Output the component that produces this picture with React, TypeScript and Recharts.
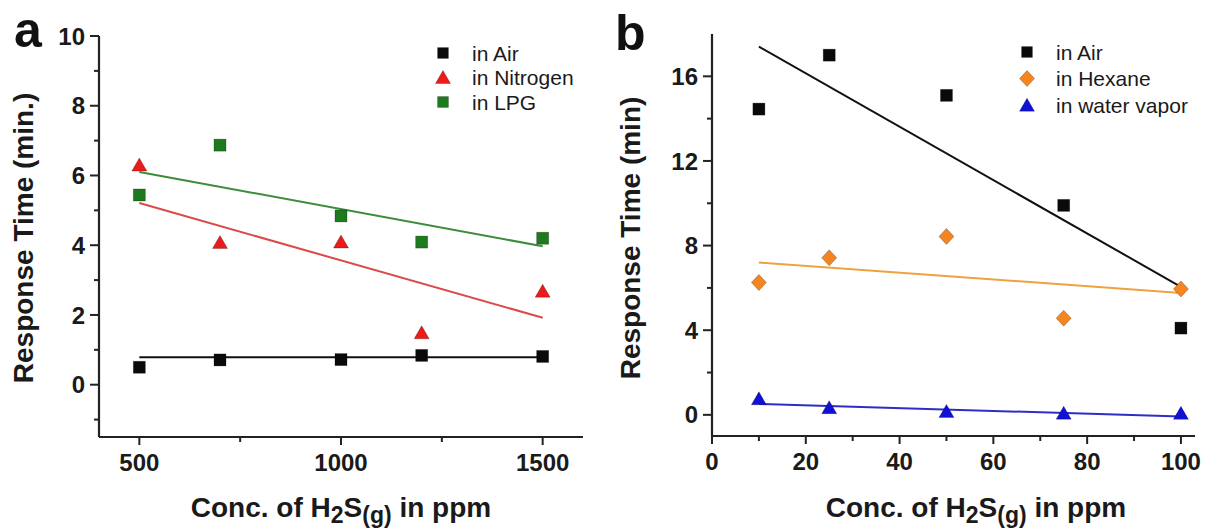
import { ComposedChart, Scatter, Line, XAxis, YAxis, Legend, Label } from 'recharts'

// panel a: concentration (ppm) vs response time (min.)
const concA = [500, 700, 1000, 1200, 1500]
const airA = [0.5, 0.71, 0.72, 0.84, 0.81]
const nitrogenA = [6.3, 4.08, 4.09, 1.49, 2.68]
const lpgA = [5.44, 6.87, 4.84, 4.09, 4.2]
const fitXA = [500, 1500]
const airFitA = [0.79, 0.79]
const nitrogenFitA = [5.21, 1.92]
const lpgFitA = [6.1, 3.97]

// panel b
const concB = [10, 25, 50, 75, 100]
const airB = [14.45, 17.0, 15.1, 9.9, 4.1]
const hexaneB = [6.25, 7.42, 8.43, 4.57, 5.95]
const waterB = [0.76, 0.34, 0.16, 0.08, 0.07]
const fitXB = [10, 100]
const airFitB = [17.4, 6.05]
const hexaneFitB = [7.2, 5.76]
const waterFitB = [0.52, -0.08]

const ticksXA = [500, 750, 1000, 1250, 1500]
const labelsXA = [500, 1000, 1500]
const ticksYA = [-1, 0, 1, 2, 3, 4, 5, 6, 7, 8, 9, 10]
const labelsYA = [0, 2, 4, 6, 8, 10]
const ticksXB = [0, 10, 20, 30, 40, 50, 60, 70, 80, 90, 100]
const labelsXB = [0, 20, 40, 60, 80, 100]
const ticksYB = [0, 2, 4, 6, 8, 10, 12, 14, 16]
const labelsYB = [0, 4, 8, 12, 16]

const FONT = '"Liberation Sans", Arial, sans-serif'
const AXIS = '#222'

type Shape = 'square' | 'triangle' | 'diamond'

interface Series {
  name: string
  x: number[]
  y: number[]
  fitX: number[]
  fitY: number[]
  color: string
  lineColor: string
  shape: Shape
}

const seriesA: Series[] = [
  { name: 'in Air', x: concA, y: airA, fitX: fitXA, fitY: airFitA, color: '#0a0a0a', lineColor: '#111', shape: 'square' },
  { name: 'in Nitrogen', x: concA, y: nitrogenA, fitX: fitXA, fitY: nitrogenFitA, color: '#ec1b1b', lineColor: '#d94a4a', shape: 'triangle' },
  { name: 'in LPG', x: concA, y: lpgA, fitX: fitXA, fitY: lpgFitA, color: '#1d7a1d', lineColor: '#3b8c3b', shape: 'square' },
]

const seriesB: Series[] = [
  { name: 'in Air', x: concB, y: airB, fitX: fitXB, fitY: airFitB, color: '#0a0a0a', lineColor: '#111', shape: 'square' },
  { name: 'in Hexane', x: concB, y: hexaneB, fitX: fitXB, fitY: hexaneFitB, color: '#f5861f', lineColor: '#eea23e', shape: 'diamond' },
  { name: 'in water vapor', x: concB, y: waterB, fitX: fitXB, fitY: waterFitB, color: '#1010d6', lineColor: '#2e2ec4', shape: 'triangle' },
]

const toPoints = (xs: number[], ys: number[]) => xs.map((x, i) => ({ x, y: ys[i] }))

function Marker({ cx, cy, shape, color, s = 1 }: { cx: number; cy: number; shape: Shape; color: string; s?: number }) {
  if (cx == null || cy == null) return null
  const edge = 'rgba(0,0,0,0.3)'
  if (shape === 'square') {
    const h = 6 * s
    return <rect x={cx - h} y={cy - h} width={2 * h} height={2 * h} fill={color} stroke={edge} strokeWidth={0.8} />
  }
  if (shape === 'triangle') {
    return (
      <polygon
        points={`${cx},${cy - 7 * s} ${cx + 7.5 * s},${cy + 6 * s} ${cx - 7.5 * s},${cy + 6 * s}`}
        fill={color}
        stroke={edge}
        strokeWidth={0.8}
      />
    )
  }
  return (
    <polygon
      points={`${cx},${cy - 8 * s} ${cx + 7.5 * s},${cy} ${cx},${cy + 8 * s} ${cx - 7.5 * s},${cy}`}
      fill={color}
      stroke={edge}
      strokeWidth={0.8}
    />
  )
}

const makeXTick = (labels: number[]) => (props: any) => {
  const { x, y, payload } = props
  const major = labels.includes(payload.value)
  return (
    <g>
      <line x1={x} x2={x} y1={y} y2={y + (major ? 8 : 5)} stroke={AXIS} strokeWidth={2} />
      {major && (
        <text x={x} y={y + 34} textAnchor="middle" fontSize={24} fontWeight="bold" fontFamily={FONT} fill="#1a1a1a">
          {payload.value}
        </text>
      )}
    </g>
  )
}

const makeYTick = (labels: number[]) => (props: any) => {
  const { x, y, payload } = props
  const major = labels.includes(payload.value)
  return (
    <g>
      <line x1={x} x2={x - (major ? 9 : 5)} y1={y} y2={y} stroke={AXIS} strokeWidth={2} />
      {major && (
        <text x={x - 14} y={y} dy="0.36em" textAnchor="end" fontSize={24} fontWeight="bold" fontFamily={FONT} fill="#1a1a1a">
          {payload.value}
        </text>
      )}
    </g>
  )
}

function XTitle({ cx, y }: { cx: number; y: number }) {
  return (
    <text x={cx} y={y} textAnchor="middle" fontSize={28} fontWeight="bold" fontFamily={FONT} fill="#1a1a1a">
      Conc. of H
      <tspan fontSize={23} dy={6}>2</tspan>
      <tspan dy={-6}>S</tspan>
      <tspan fontSize={23} dy={6}>(g)</tspan>
      <tspan dy={-6}>{' in ppm'}</tspan>
    </text>
  )
}

function YTitle({ x, cy, text }: { x: number; cy: number; text: string }) {
  return (
    <text
      x={x}
      y={cy}
      transform={`rotate(-90 ${x} ${cy})`}
      textAnchor="middle"
      fontSize={28}
      fontWeight="bold"
      fontFamily={FONT}
      fill="#1a1a1a"
    >
      {text}
    </text>
  )
}

function LegendBox({ items, gap }: { items: Series[]; gap: number }) {
  return (
    <svg width={180} height={90} style={{ overflow: 'visible', display: 'block' }}>
      {items.map((it, i) => (
        <g key={it.name}>
          <Marker cx={10} cy={12 + i * gap} shape={it.shape} color={it.color} s={it.shape === 'square' ? 0.9 : 1} />
          <text x={39} y={12 + i * gap} dy="0.36em" fontSize={21} fontFamily={FONT} fill="#1a1a1a">
            {it.name}
          </text>
        </g>
      ))}
    </svg>
  )
}

interface PanelProps {
  left: number
  width: number
  margin: { top: number; right: number; bottom: number; left: number }
  series: Series[]
  xDomain: [number, number]
  yDomain: [number, number]
  xTicks: number[]
  xLabels: number[]
  yTicks: number[]
  yLabels: number[]
  xTitleX: number
  yTitleX: number
  yTitle: string
  legendLeft: number
  legendTop: number
  legendGap: number
}

function Panel(p: PanelProps) {
  return (
    <div style={{ position: 'absolute', left: p.left, top: 0 }}>
      <ComposedChart width={p.width} height={531} margin={p.margin}>
        <XAxis
          xAxisId="main"
          dataKey="x"
          type="number"
          domain={p.xDomain}
          allowDataOverflow
          ticks={p.xTicks}
          interval={0}
          height={40}
          tickSize={0}
          tickMargin={0}
          tickLine={false}
          tick={makeXTick(p.xLabels)}
          axisLine={{ stroke: AXIS, strokeWidth: 2.2 }}
        >
          <Label content={() => <XTitle cx={p.xTitleX} y={517} />} />
        </XAxis>
        <XAxis
          xAxisId="top"
          orientation="top"
          dataKey="x"
          type="number"
          domain={p.xDomain}
          allowDataOverflow
          height={0}
          tick={false}
          tickLine={false}
          axisLine={{ stroke: AXIS, strokeWidth: 2.2 }}
        />
        <YAxis
          yAxisId="main"
          dataKey="y"
          type="number"
          domain={p.yDomain}
          allowDataOverflow
          ticks={p.yTicks}
          interval={0}
          width={60}
          tickSize={0}
          tickMargin={0}
          tickLine={false}
          tick={makeYTick(p.yLabels)}
          axisLine={{ stroke: AXIS, strokeWidth: 2.2 }}
        >
          <Label content={() => <YTitle x={p.yTitleX} cy={238} text={p.yTitle} />} />
        </YAxis>
        <YAxis
          yAxisId="right"
          orientation="right"
          dataKey="y"
          type="number"
          domain={p.yDomain}
          allowDataOverflow
          width={0}
          tick={false}
          tickLine={false}
          axisLine={{ stroke: AXIS, strokeWidth: 2.2 }}
        />
        {p.series.map(s => (
          <Line
            key={s.name + '-fit'}
            xAxisId="main"
            yAxisId="main"
            data={toPoints(s.fitX, s.fitY)}
            dataKey="y"
            type="linear"
            stroke={s.lineColor}
            strokeWidth={2}
            dot={false}
            activeDot={false}
            legendType="none"
            isAnimationActive={false}
          />
        ))}
        {p.series.map(s => (
          <Scatter
            key={s.name}
            xAxisId="main"
            yAxisId="main"
            name={s.name}
            data={toPoints(s.x, s.y)}
            dataKey="y"
            shape={(props: any) => <Marker cx={props.cx} cy={props.cy} shape={s.shape} color={s.color} />}
            isAnimationActive={false}
          />
        ))}
        <Legend
          layout="horizontal"
          verticalAlign="middle"
          align="center"
          wrapperStyle={{ left: p.legendLeft, top: p.legendTop, width: 180, height: 90 }}
          content={() => <LegendBox items={p.series} gap={p.legendGap} />}
        />
      </ComposedChart>
    </div>
  )
}

function PanelLetter({ x, y, text }: { x: number; y: number; text: string }) {
  return (
    <svg width={60} height={60} style={{ position: 'absolute', left: x, top: y - 48, overflow: 'visible' }}>
      <text x={0} y={48} fontSize={50} fontWeight="bold" fontFamily={FONT} fill="#111">
        {text}
      </text>
    </svg>
  )
}

export default function App() {
  return (
    <div style={{ position: 'absolute', left: 0, top: 0, width: 1206, height: 531, background: '#fff', overflow: 'hidden' }}>
      <Panel
        left={0}
        width={600}
        margin={{ top: 36, right: 17, bottom: 54, left: 39 }}
        series={seriesA}
        xDomain={[400, 1600]}
        yDomain={[-1.5, 10]}
        xTicks={ticksXA}
        xLabels={labelsXA}
        yTicks={ticksYA}
        yLabels={labelsYA}
        xTitleX={341}
        yTitleX={33}
        yTitle="Response Time (min.)"
        legendLeft={433}
        legendTop={41}
        legendGap={24.5}
      />
      <Panel
        left={603}
        width={603}
        margin={{ top: 34, right: 11, bottom: 55, left: 49 }}
        series={seriesB}
        xDomain={[0, 103]}
        yDomain={[-1, 18]}
        xTicks={ticksXB}
        xLabels={labelsXB}
        yTicks={ticksYB}
        yLabels={labelsYB}
        xTitleX={373}
        yTitleX={37}
        yTitle="Response Time (min)"
        legendLeft={414}
        legendTop={40}
        legendGap={26.6}
      />
      <PanelLetter x={14} y={47} text="a" />
      <PanelLetter x={615} y={50} text="b" />
    </div>
  )
}
